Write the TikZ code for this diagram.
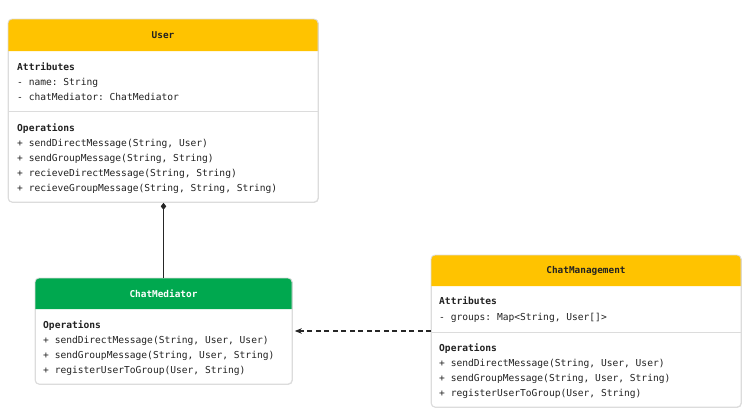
\documentclass[tikz,border=0pt]{standalone}
\usepackage{fontspec}
\setmonofont{DejaVu Sans Mono}
\usetikzlibrary{arrows.meta}
\definecolor{hdyellow}{HTML}{FFC300}
\definecolor{hdgreen}{HTML}{00A84F}
\definecolor{boxgrey}{HTML}{DCDCDC}
\definecolor{txtdark}{HTML}{222222}
\tikzset{
  classbox/.style={draw=boxgrey, line width=0.8pt, rounded corners=4pt, fill=white, inner sep=0pt, anchor=north west},
  classtitle/.style={font=\ttfamily\bfseries\fontsize{9.4}{11}\selectfont, inner sep=0pt},
  member/.style={font=\ttfamily\fontsize{9.6}{11}\selectfont, text=txtdark, anchor=west, inner sep=0pt, text height=8pt, text depth=1.2pt},
  section/.style={member, font=\ttfamily\bfseries\fontsize{9.6}{11}\selectfont},
  sepline/.style={draw=boxgrey, line width=0.8pt}
}
\begin{document}
\begin{tikzpicture}[x=1pt,y=-1pt]
\useasboundingbox (0,0) rectangle (751,415);

% Drawing class User
\node [classbox, minimum width=310pt, minimum height=183pt] (user) at (8,19) {};
\fill [hdyellow] (8,51) [rounded corners=4pt] -- (8,19) -- (318,19) [sharp corners] -- (318,51) -- cycle;
\draw [boxgrey, line width=0.8pt, rounded corners=4pt] (8,19) rectangle (318,202);
\node [classtitle, text=txtdark] (user-title) at (163,35) {User};
\node [section] (user-attr) at (17,67) {Attributes};
\node [member] (user-a1) at (17,82) {- name: String};
\node [member] (user-a2) at (17,97) {- chatMediator: ChatMediator};
\draw [sepline] (8,111) -- (318,111);
\node [section] (user-ops) at (17,128) {Operations};
\node [member] (user-o1) at (17,143) {+ sendDirectMessage(String, User)};
\node [member] (user-o2) at (17,158) {+ sendGroupMessage(String, String)};
\node [member] (user-o3) at (17,173) {+ recieveDirectMessage(String, String)};
\node [member] (user-o4) at (17,188) {+ recieveGroupMessage(String, String, String)};

% Drawing class ChatMediator
\node [classbox, minimum width=257pt, minimum height=106pt] (mediator) at (35,278) {};
\fill [hdgreen] (35,309) [rounded corners=4pt] -- (35,278) -- (292,278) [sharp corners] -- (292,309) -- cycle;
\draw [boxgrey, line width=0.8pt, rounded corners=4pt] (35,278) rectangle (292,384);
\node [classtitle, text=white] (mediator-title) at (163.5,294) {ChatMediator};
\node [section] (mediator-ops) at (43,325) {Operations};
\node [member] (mediator-o1) at (43,340) {+ sendDirectMessage(String, User, User)};
\node [member] (mediator-o2) at (43,355) {+ sendGroupMessage(String, User, String)};
\node [member] (mediator-o3) at (43,370) {+ registerUserToGroup(User, String)};

% Drawing class ChatManagement
\node [classbox, minimum width=310pt, minimum height=152pt] (management) at (431,255) {};
\fill [hdyellow] (431,286) [rounded corners=4pt] -- (431,255) -- (741,255) [sharp corners] -- (741,286) -- cycle;
\draw [boxgrey, line width=0.8pt, rounded corners=4pt] (431,255) rectangle (741,407);
\node [classtitle, text=txtdark] (management-title) at (586,271) {ChatManagement};
\node [section] (management-attr) at (439,301) {Attributes};
\node [member] (management-a1) at (439,317) {- groups: Map<String, User[]>};
\draw [sepline] (431,332) -- (741,332);
\node [section] (management-ops) at (439,348) {Operations};
\node [member] (management-o1) at (439,363) {+ sendDirectMessage(String, User, User)};
\node [member] (management-o2) at (439,378) {+ sendGroupMessage(String, User, String)};
\node [member] (management-o3) at (439,393) {+ registerUserToGroup(User, String)};

% Drawing composition User ChatMediator
\draw [line width=1.3pt, black!85, {Diamond[length=7pt,width=5.5pt]}-] (user.south -| mediator-title) -- (mediator.north -| mediator-title);

% Drawing dependency ChatManagement ChatMediator
\draw [line width=1.2pt, black!85, dash pattern=on 5pt off 3.5pt, -{Stealth[length=7pt,width=5.5pt]}] (management.west |- 0,331) -- ([xshift=2pt]mediator.east |- 0,331);
\end{tikzpicture}
\end{document}
